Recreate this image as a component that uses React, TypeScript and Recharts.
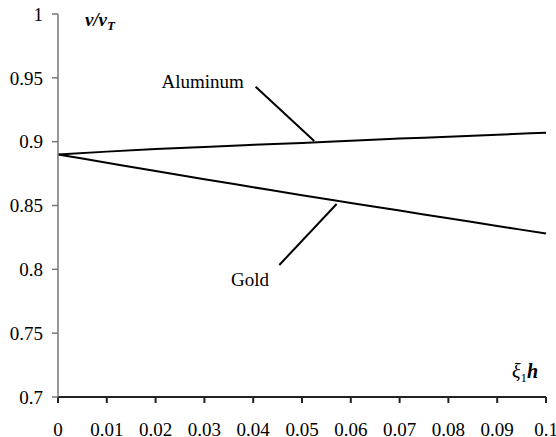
import React from 'react';
import { LineChart, Line, XAxis, YAxis, ReferenceLine, ReferenceDot } from 'recharts';

const xValues = [0, 0.01, 0.02, 0.03, 0.04, 0.05, 0.06, 0.07, 0.08, 0.09, 0.1];
const aluminum = [0.89, 0.8922, 0.8942, 0.8959, 0.8975, 0.899, 0.9008, 0.9024, 0.9039, 0.9055, 0.907];
const gold = [0.89, 0.8835, 0.877, 0.8706, 0.8643, 0.858, 0.852, 0.846, 0.84, 0.834, 0.828];
const xTicks = [0, 0.01, 0.02, 0.03, 0.04, 0.05, 0.06, 0.07, 0.08, 0.09, 0.1];
const yTicks = [0.7, 0.75, 0.8, 0.85, 0.9, 0.95, 1];

const data = xValues.map((x, i) => ({ x, aluminum: aluminum[i], gold: gold[i] }));

const FONT = 'Liberation Serif';

const fmt = (v: number) => String(Number(v.toFixed(2)));

const TitleY = (props: any) => {
  const vb = props.viewBox || {};
  const cx = vb.x + (vb.width || 0) / 2;
  const cy = vb.y + (vb.height || 0) / 2;
  return (
    <text x={cx} y={cy + 6} textAnchor="middle" fontFamily={FONT} fontSize={19} fontStyle="italic" fontWeight="bold" fill="#000">
      v/v<tspan fontSize={13} dy={4}>T</tspan>
    </text>
  );
};

const TitleX = (props: any) => {
  const vb = props.viewBox || {};
  const cx = vb.x + (vb.width || 0) / 2;
  const cy = vb.y + (vb.height || 0) / 2;
  return (
    <text x={cx} y={cy + 6} textAnchor="middle" fontFamily={FONT} fontSize={20} fill="#000">
      <tspan fontStyle="italic">ξ</tspan>
      <tspan fontSize={13} dy={4}>1</tspan>
      <tspan fontStyle="italic" fontWeight="bold" dy={-4}>h</tspan>
    </text>
  );
};

export default function App() {
  return (
    <div style={{ position: 'absolute', left: 0, top: 0 }}>
      <LineChart width={556} height={437} data={data} margin={{ top: 14, right: 10, bottom: 0, left: 0 }}>
        <XAxis
          dataKey="x"
          type="number"
          domain={[0, 0.1]}
          ticks={xTicks}
          tickFormatter={fmt}
          height={40}
          tickSize={6}
          tickMargin={20}
          stroke="#222"
          strokeWidth={2}
          tick={{ fontSize: 19, fontFamily: FONT, fill: '#000' }}
          interval={0}
        />
        <YAxis
          type="number"
          domain={[0.7, 1]}
          ticks={yTicks}
          tickFormatter={fmt}
          width={58}
          tickSize={6}
          tickMargin={9}
          stroke="#777"
          strokeWidth={1.5}
          tick={{ fontSize: 19, fontFamily: FONT, fill: '#000' }}
          interval={0}
        />
        <Line type="monotone" dataKey="aluminum" stroke="#000" strokeWidth={2} dot={false} isAnimationActive={false} />
        <Line type="monotone" dataKey="gold" stroke="#000" strokeWidth={2} dot={false} isAnimationActive={false} />
        <ReferenceLine segment={[{ x: 0.0405, y: 0.9431 }, { x: 0.0525, y: 0.9005 }]} stroke="#000" strokeWidth={2} />
        <ReferenceLine segment={[{ x: 0.04535, y: 0.8034 }, { x: 0.0571, y: 0.8512 }]} stroke="#000" strokeWidth={2} />
        <ReferenceDot x={0.02965} y={0.947} r={0} fill="none" stroke="none"
          label={{ value: 'Aluminum', position: 'center', fill: '#000', fontSize: 19, fontFamily: FONT }} />
        <ReferenceDot x={0.03934} y={0.7924} r={0} fill="none" stroke="none"
          label={{ value: 'Gold', position: 'center', fill: '#000', fontSize: 19, fontFamily: FONT }} />
        <ReferenceDot x={0.0086} y={0.9953} r={0} fill="none" stroke="none" label={<TitleY />} />
        <ReferenceDot x={0.0957} y={0.7196} r={0} fill="none" stroke="none" label={<TitleX />} />
      </LineChart>
    </div>
  );
}
